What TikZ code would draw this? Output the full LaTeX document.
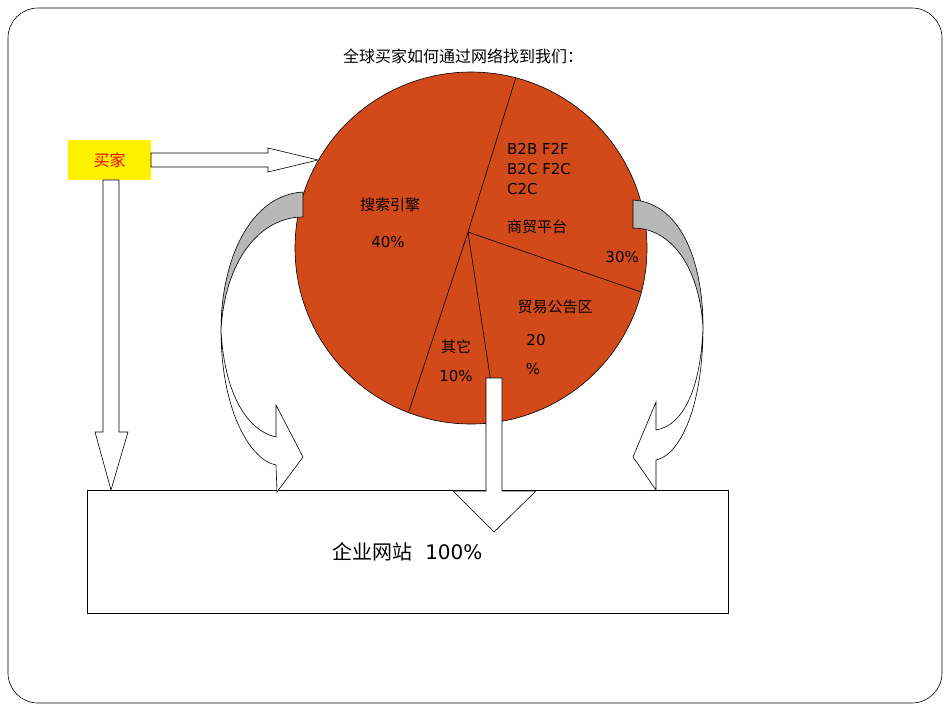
\documentclass[tikz,border=0pt]{standalone}
\usepackage{fontspec}
\setmainfont{DejaVu Sans}
\newfontfamily\cjk{Noto Sans CJK SC}
\definecolor{pie}{HTML}{D24A1A}
\begin{document}
\begin{tikzpicture}[x=1pt,y=-1pt,
  lab/.style={font=\fontsize{15}{18}\selectfont, inner sep=0pt},
  cj/.style={font=\cjk\fontsize{15}{18}\selectfont, inner sep=0pt},
  hollow/.style={draw=black, fill=white, line width=0.6pt}]
\useasboundingbox (0,0) rectangle (950,713);
\draw[line width=0.6pt, rounded corners=30pt] (8,8) rectangle (942,703);
\node[cj, font=\cjk\fontsize{16}{18}\selectfont] (title) at (463,56) {全球买家如何通过网络找到我们：};
% pie
\draw[fill=pie, line width=0.6pt] (471,248) circle (176);
\coordinate (c) at (468,232);
\draw[line width=0.6pt] (c) -- (516,77) (c) -- (409,411) (c) -- (641,292) (c) -- (497,422);
\node[cj] (s) at (390,205) {搜索引擎};
\node[lab] (s2) at (388,242) {40\%};
\node[lab, anchor=west, align=left] (b) at (507,169) {B2B F2F\\[2pt]B2C F2C\\[2pt]C2C};
\node[cj, anchor=west] (b2) at (507,227) {商贸平台};
\node[lab, anchor=east] (b3) at (639,257) {30\%};
\node[cj] (m) at (555,307) {贸易公告区};
\node[lab] (m2) at (536,340) {20};
\node[lab] (m3) at (533,369) {\%};
\node[cj] (o) at (456,347) {其它};
\node[lab] (o2) at (456,376) {10\%};
% buyer box
\node[draw=none, fill=yellow, minimum width=83pt, minimum height=40pt, font=\cjk\fontsize{16}{18}\selectfont, text=red] (buyer) at (109.5,160) {买家};
% right arrow
\draw[hollow] (151,153) -- (268,153) -- (268,148) -- (318,160) -- (268,172) -- (268,167) -- (151,167) -- cycle;
% down arrow
\draw[hollow] (103,180) -- (103,432) -- (95,432) -- (111,490) -- (128,432) -- (119,432) -- (119,180) -- cycle;
% website box
\node[draw, line width=0.6pt, minimum width=641pt, minimum height=123pt, font=\fontsize{20}{22}\selectfont] (web) at (407.5,551.5) {{\cjk 企业网站}\ \ 100\%};
% center arrow
\draw[hollow] (486,378) -- (486,491) -- (453,491) -- (494,532) -- (536,491) -- (502,491) -- (502,378) -- cycle;
% left curved arrow
\draw[hollow] (221,330) .. controls (221,410) and (250,460) .. (276,465) -- (277,492) -- (303,457) -- (276,405) -- (276,437) .. controls (245,430) and (224,390) .. (221,330) -- cycle;
\draw[fill=black!28, line width=0.6pt] (303,192) .. controls (250,195) and (221,260) .. (221,330) .. controls (225,260) and (260,217) .. (303,217) -- cycle;
% right curved arrow
\draw[hollow] (703,327) .. controls (703,407) and (680,455) .. (656,460) -- (656,490) -- (633,457) -- (656,402) -- (656,430) .. controls (685,425) and (701,385) .. (703,327) -- cycle;
\draw[fill=black!28, line width=0.6pt] (633,200) .. controls (680,203) and (703,260) .. (703,327) .. controls (699,265) and (670,228) .. (633,228) -- cycle;
\end{tikzpicture}
\end{document}
